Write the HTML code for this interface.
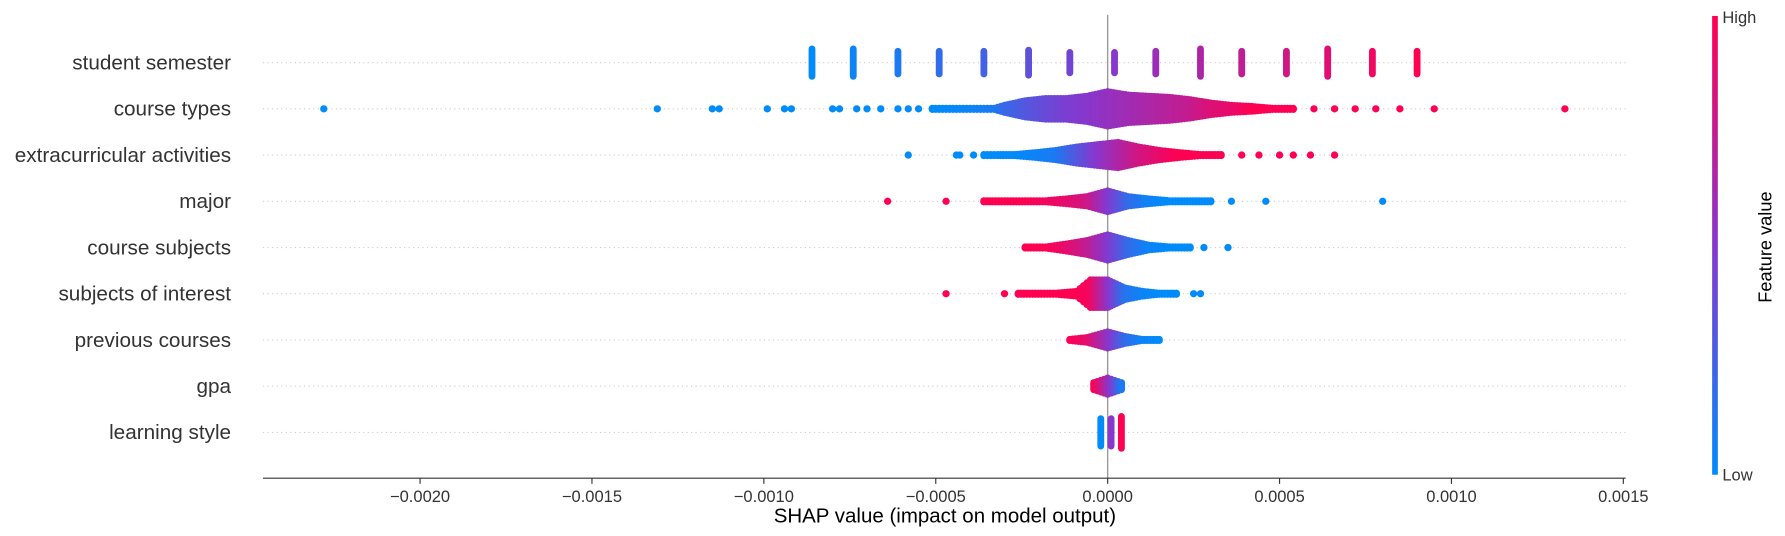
<!DOCTYPE html>
<html><head><meta charset="utf-8"><style>
body{margin:0;background:#fff;}
svg{display:block;font-family:"Liberation Sans","DejaVu Sans",sans-serif;}
</style></head><body>
<svg id="chart" width="1785" height="536" viewBox="0 0 1568 470.8"></svg>
<script>
const features=["student semester","course types","extracurricular activities","major","course subjects","subjects of interest","previous courses","gpa","learning style"];
const xTicks=[-0.002,-0.0015,-0.001,-0.0005,0,0.0005,0.001,0.0015];
const xTickLabels=["\u22120.0020","\u22120.0015","\u22120.0010","\u22120.0005","0.0000","0.0005","0.0010","0.0015"];
const semVals=[-0.00086,-0.00074,-0.00061,-0.00049,-0.00036,-0.00023,-0.00011,0.00002,0.00014,0.00027,0.00039,0.00052,0.00064,0.00077,0.0009];
const semHalf=[12,12,10,10,10,11,9,9,10,12,10,10,12,10,10];
const semFeat=[0,0.05,0.1,0.18,0.25,0.35,0.42,0.5,0.58,0.66,0.73,0.8,0.87,0.94,1];
const ctVals=[-0.00228,-0.00131,-0.00115,-0.00113,-0.00099,-0.00094,-0.00092,-0.0008,-0.00078,-0.00073,-0.0007,-0.00066,-0.00061,-0.00058,-0.00055,-0.00051,-0.00048,-0.00045,-0.00042,-0.00039,-0.00036,-0.00033,-0.0003,-0.00024,-0.00018,-0.00012,-0.00006,0,0.00006,0.00012,0.00018,0.00024,0.0003,0.00036,0.00042,0.00048,0.00054,0.0006,0.00066,0.00072,0.00078,0.00085,0.00095,0.00133];
const ctHalf=[0,0,0,0,0,0,0,0,0,0,0,0,0,0,0,1,1,1,1,1,1,1,3,7,9,9,11,15,12,11,10,8,5,3,2,1,1,0,0,0,0,0,0,0];
const ctFeat=[0,0,0,0,0,0,0,0,0,0,0,0,0,0,0,0,0,0.02,0.03,0.05,0.08,0.1,0.2,0.3,0.38,0.45,0.5,0.55,0.6,0.65,0.7,0.75,0.85,0.9,1,1,1,1,1,1,1,1,1,1];
const exVals=[-0.00058,-0.00044,-0.00043,-0.00039,-0.00036,-0.00032,-0.00027,-0.00021,-0.00015,-0.00009,-0.00003,0.00003,0.00009,0.00015,0.00021,0.00027,0.00033,0.00039,0.00044,0.0005,0.00054,0.00059,0.00066];
const exHalf=[0,0,0,0,1,1,1,2,4,7,9,11,7,4,2,1,1,0,0,0,0,0,0];
const exFeat=[0,0,0,0,0,0,0,0.05,0.1,0.3,0.5,0.65,0.8,0.9,1,1,1,1,1,1,1,1,1];
const mjVals=[-0.00064,-0.00047,-0.00036,-0.0003,-0.00024,-0.00018,-0.00012,-0.00006,0,0.00006,0.00012,0.00018,0.00024,0.0003,0.00036,0.00046,0.0008];
const mjHalf=[0,0,1,1,1,1,2,4,9,4,2,1,1,1,0,0,0];
const mjFeat=[1,1,1,1,1,0.95,0.9,0.8,0.5,0.2,0.05,0,0,0,0,0,0];
const csVals=[-0.00024,-0.00018,-0.00012,-0.00006,0,0.00006,0.00012,0.00018,0.00024,0.00028,0.00035];
const csHalf=[1,1,3,6,11,6,2,1,1,0,0];
const csFeat=[1,1,0.9,0.75,0.5,0.2,0.05,0,0,0,0];
const siVals=[-0.00047,-0.0003,-0.00026,-0.00021,-0.00015,-0.00009,-0.00005,0,0.00005,0.0001,0.00015,0.0002,0.00025,0.00027];
const siHalf=[0,0,1,1,1,2,12,12,5,2,1,1,0,0];
const siFeat=[1,1,1,1,1,1,0.95,0.55,0.15,0.05,0,0,0,0];
const pcVals=[-0.00011,-0.00006,0,0.00005,0.0001,0.00015];
const pcHalf=[1,2,7,3,1,1];
const pcFeat=[1,0.9,0.55,0.2,0.05,0];
const gpVals=[-0.00004,0,0.00004];
const gpHalf=[3,7,3];
const gpFeat=[1,0.6,0.1];
const lsVals=[-0.00002,0.00001,0.00004];
const lsHalf=[12,12,14];
const lsFeat=[0,0.5,1];

const svg=document.getElementById('chart');
const NS='http://www.w3.org/2000/svg';
function mk(t,a,p){const e=document.createElementNS(NS,t);for(const k in a)e.setAttribute(k,a[k]);(p||svg).appendChild(e);return e;}
const x0=973,kx=302000;
function xs(v){return x0+v*kx;}
function ys(i){return 55+i*40.6;}
function col(t){const s=[[0,139,251],[135,55,205],[255,0,82]];let a,b,u;if(t<0.5){a=s[0];b=s[1];u=t/0.5;}else{a=s[1];b=s[2];u=(t-0.5)/0.5;}return 'rgb('+a.map((c,i)=>Math.round(c+(b[i]-c)*u)).join(',')+')';}

features.forEach((f,i)=>{
  const g=mk('line',{x1:231,x2:1428,y1:ys(i),y2:ys(i),stroke:'#ccc','stroke-width':1,'stroke-dasharray':'1,3'});
  
  
  const t=mk('text',{x:203,y:ys(i)+6,'text-anchor':'end','font-size':18.2,fill:'#333'});
  t.textContent=f;
  
  
});
const zl=mk('line',{x1:xs(0),x2:xs(0),y1:13,y2:420,stroke:'#999','stroke-width':1.2});



function drawBars(vals,half,feat,row,w){
  vals.forEach((v,i)=>{
    const h=half[i];
    const r=mk('rect',{x:xs(v)-w/2,y:ys(row)-h-3,width:w,height:2*h+6,rx:3,fill:col(feat[i])});
    
    
  });
}
function capsule(x,y,h,c){
  const r=mk('rect',{x:x-3.2,y:y-h-3.2,width:6.4,height:2*h+6.4,rx:3.2,fill:c});
  
  
}
function drawSwarm(vals,half,feat,row){
  const y=ys(row);
  vals.forEach((v,i)=>{
    const h0=half[i]<2?half[i]*0.4:half[i];
    capsule(xs(v),y,h0,col(feat[i]));
    if(i<vals.length-1 && half[i]>=1 && half[i+1]>=1){
      const h1=half[i+1]<2?half[i+1]*0.4:half[i+1];
      const xa=xs(v),xb=xs(vals[i+1]);
      const n=Math.floor((xb-xa)/2.5);
      for(let k=1;k<n;k++){
        const u=k/n;
        capsule(xa+(xb-xa)*u,y,h0+(h1-h0)*u,col(feat[i]+(feat[i+1]-feat[i])*u));
      }
    }
  });
}
drawBars(semVals,semHalf,semFeat,0,6);
drawSwarm(ctVals,ctHalf,ctFeat,1);
drawSwarm(exVals,exHalf,exFeat,2);
drawSwarm(mjVals,mjHalf,mjFeat,3);
drawSwarm(csVals,csHalf,csFeat,4);
drawSwarm(siVals,siHalf,siFeat,5);
drawSwarm(pcVals,pcHalf,pcFeat,6);
drawSwarm(gpVals,gpHalf,gpFeat,7);
drawBars(lsVals,lsHalf,lsFeat,8,6);

const ax=mk('line',{x1:231,x2:1428,y1:420,y2:420,stroke:'#333','stroke-width':1});


xTicks.forEach((v,i)=>{
  const tk=mk('line',{x1:xs(v),x2:xs(v),y1:420,y2:425,stroke:'#333'});
  
  
  const t=mk('text',{x:xs(v),y:441,'text-anchor':'middle','font-size':14.5,fill:'#333'});
  t.textContent=xTickLabels[i];
  
  
});
const xt=mk('text',{x:830,y:459,'text-anchor':'middle','font-size':18,fill:'#000'});
xt.textContent='SHAP value (impact on model output)';



const defs=mk('defs',{});
const lg=mk('linearGradient',{id:'cb',x1:0,y1:1,x2:0,y2:0},defs);
mk('stop',{offset:'0','stop-color':col(0)},lg);
mk('stop',{offset:'0.5','stop-color':col(0.5)},lg);
mk('stop',{offset:'1','stop-color':col(1)},lg);
const cb=mk('rect',{x:1504,y:14,width:5,height:403,fill:'url(#cb)'});


const hi=mk('text',{x:1513,y:20,'font-size':14.5,fill:'#333'});hi.textContent='High';


const lo=mk('text',{x:1513,y:422,'font-size':14.5,fill:'#333'});lo.textContent='Low';


const fv=mk('text',{x:1556,y:217,'text-anchor':'middle','font-size':16,fill:'#000',transform:'rotate(-90 1556 217)'});
fv.textContent='Feature value';


</script>
</body></html>
